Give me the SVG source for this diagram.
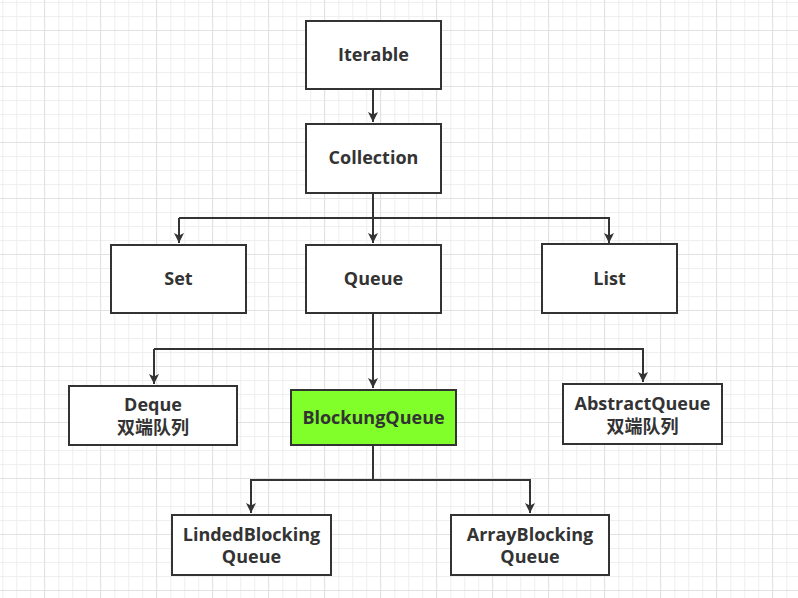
<svg xmlns="http://www.w3.org/2000/svg" width="798" height="598" viewBox="0 0 798 598">
<defs>
<pattern id="minor" width="14" height="14" x="2.3" y="2" patternUnits="userSpaceOnUse">
<path d="M0 0.5H14M0.5 0V14" fill="none" stroke="#efefef" stroke-width="1"/>
</pattern>
<pattern id="major" width="56" height="56" x="44" y="30" patternUnits="userSpaceOnUse">
<path d="M0 0.5H56M0.5 0V56" fill="none" stroke="#e2e2e2" stroke-width="1"/>
</pattern>
<marker id="arr" viewBox="0 0 10 10" refX="10" refY="5" markerWidth="10" markerHeight="10" markerUnits="userSpaceOnUse" orient="auto">
<path d="M0 0L10 5L0 10L2.5 5Z" fill="#333"/>
</marker>
</defs>
<style>
.box{fill:#fff;stroke:#333;stroke-width:2}
.hl{fill:#80ff2a;stroke:#333;stroke-width:2}
.lbl{font-family:"Open Sans","Noto Sans CJK SC",sans-serif;font-weight:bold;font-size:18px;fill:#333;text-anchor:middle}
.edge{fill:none;stroke:#333;stroke-width:2}
</style>
<rect width="798" height="598" fill="#fff"/>
<rect width="798" height="598" fill="url(#minor)"/>
<rect width="798" height="598" fill="url(#major)"/>

<g id="connectors">
<path class="edge" d="M373 89V122" marker-end="url(#arr)"/>
<path class="edge" d="M373 193V243"  marker-end="url(#arr)"/>
<path class="edge" d="M179 218H609V243" marker-end="url(#arr)"/>
<path class="edge" d="M179 218V243" marker-end="url(#arr)"/>
<path class="edge" d="M373 313V388" marker-end="url(#arr)"/>
<path class="edge" d="M154 349H643V382" marker-end="url(#arr)"/>
<path class="edge" d="M154 349V384" marker-end="url(#arr)"/>
<path class="edge" d="M373 445V480H530V513" marker-end="url(#arr)"/>
<path class="edge" d="M373 480H251V513" marker-end="url(#arr)"/>
</g>

<g id="iterable">
<rect class="box" x="306" y="21" width="135" height="68"/>
<text class="lbl" x="373.5" y="61">Iterable</text>
</g>
<g id="collection">
<rect class="box" x="306" y="124" width="135" height="69"/>
<text class="lbl" x="373.5" y="164">Collection</text>
</g>
<g id="set">
<rect class="box" x="111" y="245" width="135" height="68"/>
<text class="lbl" x="178.5" y="285">Set</text>
</g>
<g id="queue">
<rect class="box" x="306" y="245" width="135" height="68"/>
<text class="lbl" x="373.5" y="285">Queue</text>
</g>
<g id="list">
<rect class="box" x="542" y="244" width="135" height="69"/>
<text class="lbl" x="609.5" y="285">List</text>
</g>
<g id="deque">
<rect class="box" x="69" y="386" width="168" height="59"/>
<text class="lbl" x="153" y="411">Deque</text>
<text class="lbl" x="153" y="434">双端队列</text>
</g>
<g id="blockingqueue">
<rect class="hl" x="291" y="390" width="165" height="55"/>
<text class="lbl" x="373.5" y="424">BlockungQueue</text>
</g>
<g id="abstractqueue">
<rect class="box" x="563" y="384" width="159" height="60"/>
<text class="lbl" x="642.5" y="410">AbstractQueue</text>
<text class="lbl" x="642.5" y="433">双端队列</text>
</g>
<g id="lindedblocking">
<rect class="box" x="172" y="515" width="159" height="60"/>
<text class="lbl" x="251.5" y="541">LindedBlocking</text>
<text class="lbl" x="251.5" y="563">Queue</text>
</g>
<g id="arrayblocking">
<rect class="box" x="451" y="515" width="158" height="60"/>
<text class="lbl" x="530" y="541">ArrayBlocking</text>
<text class="lbl" x="530" y="563">Queue</text>
</g>
</svg>
